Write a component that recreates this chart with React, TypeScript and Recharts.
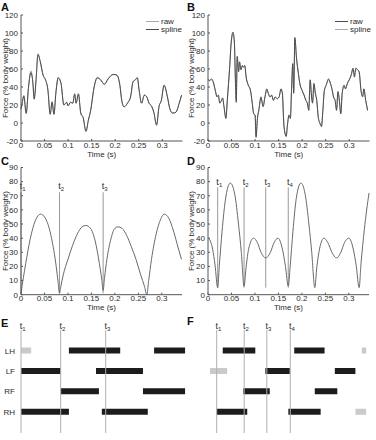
import React from 'react';
import { LineChart, Line, XAxis, YAxis, Legend, ReferenceLine, BarChart, Bar, Cell } from 'recharts';

const FONT = '"Liberation Sans", Arial, Helvetica, sans-serif';
const INK = '#2b2b2b';
const AXIS = '#555';

// shared axis ticks
const timeTicks = [0, 0.05, 0.1, 0.15, 0.2, 0.25, 0.3];
const forceTicksAB = [-20, 0, 20, 40, 60, 80, 100, 120];
const forceTicksCD = [0, 10, 20, 30, 40, 50, 60, 70, 80, 90];

// A - measured trial 1
const aTime = [0, 0.003, 0.006, 0.011, 0.016, 0.021, 0.025, 0.028, 0.032, 0.036, 0.041, 0.047, 0.052, 0.057, 0.062, 0.066, 0.07, 0.074, 0.079, 0.085, 0.091, 0.097, 0.1, 0.105, 0.11, 0.114, 0.117, 0.122, 0.127, 0.132, 0.138, 0.143, 0.148, 0.155, 0.162, 0.169, 0.177, 0.185, 0.196, 0.204, 0.21, 0.214, 0.219, 0.226, 0.233, 0.238, 0.243, 0.247, 0.251, 0.256, 0.262, 0.267, 0.272, 0.278, 0.282, 0.288, 0.293, 0.298, 0.304, 0.311, 0.316, 0.322, 0.329, 0.336, 0.341];
const aRaw = [15, 23, 31, 10, 40, 58, 46, 26, 48, 77, 68, 53, 48, 38, 9, 24, 9, 33, 51, 44, 20, 23, 19, 23, 22, 33, 22, 33, 10, 6, -10, 3, 14, 39, 51, 48, 43, 49, 54, 53, 42, 25, 18, 22, 29, 46, 48, 51, 36, 22, 31, 29, 22, 18, 12, -3, 18, 25, 42, 29, 16, 11, 12, 22, 31];
const aSpline = [16, 24, 30, 11, 40, 56, 46, 27, 48, 76, 68, 53, 48, 37, 10, 23, 10, 33, 50, 44, 20, 23, 19, 23, 22, 32, 22, 32, 11, 6, -9, 3, 14, 39, 50, 48, 43, 49, 54, 53, 42, 25, 18, 22, 30, 46, 48, 50, 36, 22, 31, 29, 22, 18, 12, -2, 18, 25, 42, 29, 16, 11, 12, 22, 31];

// B - measured trial 2
const bTime = [0, 0.003, 0.007, 0.011, 0.016, 0.019, 0.022, 0.025, 0.0285, 0.031, 0.034, 0.038, 0.041, 0.046, 0.049, 0.053, 0.056, 0.058, 0.06, 0.062, 0.065, 0.067, 0.07, 0.073, 0.0755, 0.078, 0.081, 0.0855, 0.09, 0.094, 0.097, 0.1, 0.102, 0.105, 0.108, 0.1125, 0.117, 0.121, 0.125, 0.128, 0.132, 0.135, 0.139, 0.1425, 0.147, 0.151, 0.155, 0.158, 0.161, 0.163, 0.166, 0.169, 0.172, 0.175, 0.1775, 0.18, 0.182, 0.1845, 0.188, 0.192, 0.195, 0.2, 0.204, 0.208, 0.211, 0.214, 0.217, 0.22, 0.222, 0.225, 0.228, 0.231, 0.234, 0.238, 0.241, 0.244, 0.247, 0.251, 0.256, 0.26, 0.264, 0.2665, 0.27, 0.273, 0.276, 0.279, 0.282, 0.285, 0.289, 0.292, 0.296, 0.3, 0.304, 0.308, 0.311, 0.314, 0.318, 0.321, 0.325, 0.3285, 0.331, 0.335, 0.339];
const bRaw = [49, 47, 49, 46, 35, 29, 31, 22, 25, 28, 18, 5, 25, 62, 88, 101, 90, 51, 23, 74, 57, 68, 59, 64, 62, 64, 51, 42, 37, 22, 10, 9, -16, 5, 14, 29, 18, 29, 38, 33, 29, 31, 25, 29, 27, 29, 38, 33, -1, -10, -15, -1, 9, 5, 38, 66, 33, 95, 72, 55, 44, 36, 31, 25, 22, 14, 48, 29, 22, 44, 33, 25, 7, -1, -4, 14, 36, 42, 49, 44, 36, 29, 25, 14, 35, 25, 10, 33, 42, 38, 44, 48, 53, 61, 51, 61, 59, 57, 36, 29, 38, 25, 14];
const bSpline = [48, 47, 48, 45, 35, 30, 30, 23, 25, 27, 18, 6, 26, 62, 87, 99, 89, 52, 25, 73, 58, 67, 60, 63, 62, 63, 51, 42, 36, 22, 11, 8, -14, 5, 15, 28, 19, 29, 37, 33, 29, 31, 26, 29, 27, 29, 37, 32, 0, -10, -14, -1, 8, 6, 38, 65, 35, 93, 72, 55, 44, 36, 31, 25, 22, 15, 47, 29, 23, 43, 33, 25, 8, 0, -3, 14, 35, 42, 48, 44, 36, 29, 25, 15, 34, 25, 11, 33, 41, 38, 44, 48, 53, 60, 52, 60, 59, 56, 36, 30, 37, 25, 14];

// C - modelled trot
const cTime = [0, 0.005, 0.01, 0.02, 0.03, 0.042, 0.055, 0.065, 0.075, 0.079, 0.082, 0.085, 0.09, 0.1, 0.11, 0.12, 0.13, 0.138, 0.148, 0.158, 0.167, 0.172, 0.175, 0.178, 0.183, 0.192, 0.2, 0.207, 0.215, 0.225, 0.235, 0.245, 0.255, 0.263, 0.268, 0.272, 0.278, 0.288, 0.297, 0.305, 0.315, 0.325, 0.335, 0.342];
const cForce = [1, 12, 22, 40, 52, 57, 52, 40, 20, 9, 1, 6, 14, 25, 35, 43, 48, 49, 47, 38, 22, 11, 3, 12, 25, 40, 47, 48, 47, 42, 34, 25, 14, 6, 0, 10, 25, 43, 53, 57, 54, 45, 33, 25];
const cEvents = [0, 0.082, 0.175];

// D - modelled walk
const dTime = [0, 0.005, 0.01, 0.015, 0.0206, 0.024, 0.03, 0.037, 0.0476, 0.057, 0.065, 0.071, 0.0768, 0.081, 0.087, 0.097, 0.105, 0.113, 0.123, 0.133, 0.141, 0.149, 0.158, 0.165, 0.171, 0.175, 0.181, 0.188, 0.198, 0.207, 0.215, 0.221, 0.2275, 0.232, 0.238, 0.247, 0.255, 0.264, 0.274, 0.283, 0.291, 0.3, 0.309, 0.316, 0.322, 0.326, 0.333, 0.343];
const dForce = [40, 38, 32, 21, 5, 20, 45, 67, 79, 71, 50, 30, 6, 19, 33, 40, 37, 30, 26, 30, 37, 40, 33, 20, 6, 20, 45, 68, 79, 71, 50, 30, 5, 20, 33, 40, 37, 30, 26, 30, 37, 40, 33, 20, 5, 22, 46, 72];
const dEvents = [0.0206, 0.0768, 0.123, 0.171];

// E / F - stance phases [touchdown, lift-off, kind]
const legs = ['LH', 'LF', 'RF', 'RH'];
const eLH = [[0, 0.021, 'part'], [0.099, 0.205, 'full'], [0.275, 0.339, 'full']];
const eLF = [[0, 0.082, 'full'], [0.155, 0.252, 'full']];
const eRF = [[0.082, 0.161, 'full'], [0.252, 0.339, 'full']];
const eRH = [[0, 0.099, 'full'], [0.167, 0.262, 'full']];
const fLH = [[0.033, 0.0995, 'full'], [0.179, 0.241, 'full'], [0.317, 0.326, 'part']];
const fLF = [[0.007, 0.042, 'part'], [0.12, 0.17, 'full'], [0.262, 0.304, 'full']];
const fRF = [[0.075, 0.129, 'full'], [0.221, 0.267, 'full']];
const fRH = [[0.0206, 0.083, 'full'], [0.167, 0.233, 'full'], [0.304, 0.326, 'part']];

const tickStyle = { fontSize: 8, fill: INK, fontFamily: FONT };
const titleStyle = { fontSize: 8, fill: INK, fontFamily: FONT };

const tLabel = (n: number, dy: number) => (props: any) => {
  const vb = props.viewBox || props;
  return (
    <text x={vb.x - 1.3} y={vb.y - dy} fontSize={9} fontFamily={FONT} fill={INK}>
      t<tspan dy={2} fontSize={6}>{n}</tspan>
    </text>
  );
};

function TraceLegend({ payload }: any) {
  const items = [...(payload || [])].sort((a: any, b: any) => String(a.value).localeCompare(String(b.value)));
  return (
    <div style={{ fontFamily: FONT, fontSize: 8, color: INK }}>
      {items.map((it: any) => (
        <div key={it.value} style={{ display: 'flex', alignItems: 'center', height: 8 }}>
          <span style={{ display: 'inline-block', width: 13, borderTop: `1px solid ${it.color}`, marginRight: 2 }} />
          <span>{it.value}</span>
        </div>
      ))}
    </div>
  );
}

function TracePanel({ time, raw, spline, rawColor, splineColor, yWidth, legendLeft }: any) {
  const data = time.map((t: number, i: number) => ({ t, raw: raw[i], spline: spline[i] }));
  const lines = [
    <Line key="raw" name="raw" dataKey="raw" type="monotone" stroke={rawColor} strokeWidth={1} dot={false} isAnimationActive={false} />,
    <Line key="spline" name="spline" dataKey="spline" type="monotone" stroke={splineColor} strokeWidth={1} dot={false} isAnimationActive={false} />,
  ];
  // darker trace goes on top
  if (rawColor < splineColor) lines.reverse();
  return (
    <LineChart width={186} height={160} data={data} margin={{ top: 15, right: 186 - yWidth - 161.5, bottom: 0, left: 0 }}>
      <XAxis type="number" dataKey="t" domain={[0, 0.343]} ticks={timeTicks} interval={0} height={19}
        stroke={AXIS} tick={tickStyle} tickSize={-2} tickMargin={3.5}
        label={{ value: 'Time (s)', position: 'insideBottom', offset: 3.5, style: titleStyle }} />
      <YAxis domain={[-20, 120]} ticks={forceTicksAB} interval={0} width={yWidth}
        stroke={AXIS} tick={tickStyle} tickSize={-2} tickMargin={5}
        label={{ value: 'Force (% body weight)', angle: -90, position: 'insideLeft', offset: 5, style: { ...titleStyle, textAnchor: 'middle' } }} />
      <Legend layout="horizontal" verticalAlign="middle" align="center" content={<TraceLegend />}
        wrapperStyle={{ top: 17, left: legendLeft, width: 40 }} />
      {lines}
    </LineChart>
  );
}

function GaitPanel({ time, force, events, yWidth, lineLow, lineHigh, labelDy }: any) {
  const data = time.map((t: number, i: number) => ({ t, force: force[i] }));
  return (
    <LineChart width={186} height={162} data={data} margin={{ top: 17.5, right: 186 - yWidth - 161, bottom: 0, left: 0 }}>
      <XAxis type="number" dataKey="t" domain={[0, 0.343]} ticks={timeTicks} interval={0} height={17.3}
        stroke={AXIS} tick={tickStyle} tickSize={-2} tickMargin={3}
        label={{ value: 'Time (s)', position: 'insideBottom', offset: 2, style: titleStyle }} />
      <YAxis domain={[0, 90]} ticks={forceTicksCD} interval={0} width={yWidth}
        stroke={AXIS} tick={tickStyle} tickSize={-2} tickMargin={5}
        label={{ value: 'Force (% body weight)', angle: -90, position: 'insideLeft', offset: 5, style: { ...titleStyle, textAnchor: 'middle' } }} />
      {events.map((t: number, i: number) => (
        <ReferenceLine key={i} segment={[{ x: t, y: lineLow }, { x: t, y: lineHigh }]} stroke="#999" strokeWidth={1}
          label={tLabel(i + 1, labelDy)} />
      ))}
      <Line dataKey="force" type="monotone" stroke="#6a6a6a" strokeWidth={1} dot={false} isAnimationActive={false} />
    </LineChart>
  );
}

function stanceRows(segs: any[][]) {
  return legs.map((leg, i) => {
    const row: any = { leg };
    let prev = 0;
    for (let j = 0; j < 3; j++) {
      const s = segs[i][j];
      if (s) {
        row['g' + j] = s[0] - prev;
        row['b' + j] = s[1] - s[0];
        row['k' + j] = s[2];
        prev = s[1];
      } else {
        row['g' + j] = 0;
        row['b' + j] = 0;
        row['k' + j] = 'full';
      }
    }
    return row;
  });
}

function StancePanel({ rows, events, left, right, showLegs }: any) {
  return (
    <BarChart layout="vertical" width={190} height={130} data={rows} barSize={6}
      margin={{ top: 20, right, bottom: 7, left: showLegs ? 0 : left }}>
      <XAxis type="number" domain={[0, 0.343]} allowDataOverflow hide />
      <YAxis type="category" dataKey="leg" width={left} hide={!showLegs} padding={{ top: 10.5, bottom: 11 }}
        axisLine={false} tickLine={false} tickSize={0} tickMargin={6} tick={tickStyle} />
      {events.map((t: number, i: number) => (
        <ReferenceLine key={i} x={t} stroke="#b0b0b0" strokeWidth={1} label={tLabel(i + 1, 1.5)} />
      ))}
      {[0, 1, 2].map((j) => [
        <Bar key={'g' + j} dataKey={'g' + j} stackId="s" fill="none" isAnimationActive={false} />,
        <Bar key={'b' + j} dataKey={'b' + j} stackId="s" isAnimationActive={false}>
          {rows.map((r: any, k: number) => (
            <Cell key={k} fill={r['k' + j] === 'part' ? '#cacaca' : '#1c1c1c'} />
          ))}
        </Bar>,
      ])}
    </BarChart>
  );
}

const letterStyle: React.CSSProperties = { position: 'absolute', fontFamily: FONT, fontWeight: 'bold', fontSize: 11, lineHeight: '8px', color: '#111' };

export default function App() {
  const eRows = stanceRows([eLH, eLF, eRF, eRH]);
  const fRows = stanceRows([fLH, fLF, fRF, fRH]);
  return (
    <div style={{ position: 'absolute', left: 0, top: 0, width: 376, height: 440, background: '#fff', overflow: 'hidden' }}>
      <div style={{ position: 'absolute', left: 0, top: 0 }}>
        <TracePanel time={aTime} raw={aRaw} spline={aSpline} rawColor="#a8a8a8" splineColor="#4a4a4a" yWidth={21} legendLeft={146} />
      </div>
      <div style={{ position: 'absolute', left: 186, top: 0 }}>
        <TracePanel time={bTime} raw={bRaw} spline={bSpline} rawColor="#4a4a4a" splineColor="#a8a8a8" yWidth={22} legendLeft={149} />
      </div>
      <div style={{ position: 'absolute', left: 0, top: 150 }}>
        <GaitPanel time={cTime} force={cForce} events={cEvents} yWidth={21} lineLow={1} lineHigh={72.5} labelDy={3} />
      </div>
      <div style={{ position: 'absolute', left: 186, top: 150 }}>
        <GaitPanel time={dTime} force={dForce} events={dEvents} yWidth={22} lineLow={5} lineHigh={76} labelDy={2.5} />
      </div>
      <div style={{ position: 'absolute', left: 0, top: 310 }}>
        <StancePanel rows={eRows} events={cEvents} left={21} right={3} showLegs />
      </div>
      <div style={{ position: 'absolute', left: 186, top: 310 }}>
        <StancePanel rows={fRows} events={dEvents} left={20.6} right={1.5} showLegs={false} />
      </div>
      <div style={{ ...letterStyle, left: 1, top: 2.5 }}>A</div>
      <div style={{ ...letterStyle, left: 187, top: 3.2 }}>B</div>
      <div style={{ ...letterStyle, left: 1, top: 157.2 }}>C</div>
      <div style={{ ...letterStyle, left: 187, top: 157.2 }}>D</div>
      <div style={{ ...letterStyle, left: 1, top: 318.9 }}>E</div>
      <div style={{ ...letterStyle, left: 187, top: 317.2 }}>F</div>
    </div>
  );
}
